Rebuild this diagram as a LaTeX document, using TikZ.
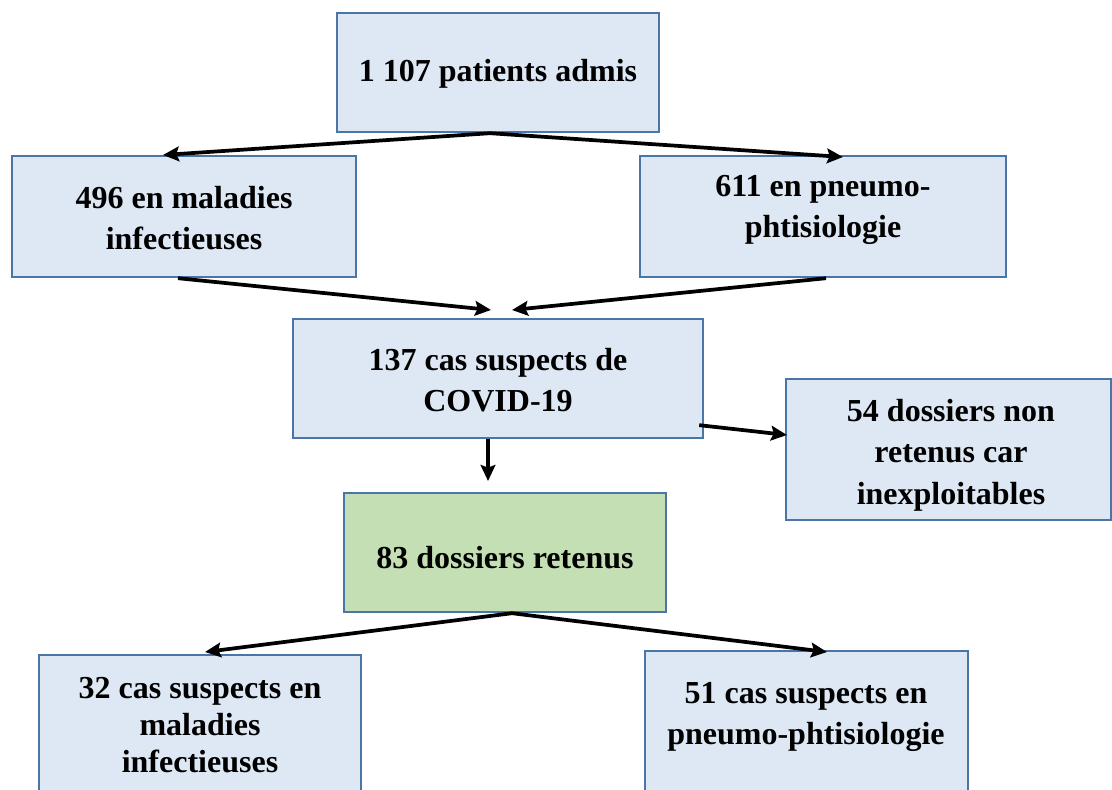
\documentclass[tikz,border=0pt]{standalone}
\usepackage{fontspec}
\setmainfont{Liberation Serif}
\usetikzlibrary{arrows.meta,fit}
\definecolor{boxblue}{HTML}{DEE8F4}
\definecolor{boxgreen}{HTML}{C4DFB3}
\definecolor{edgeblue}{HTML}{4A75A6}
\begin{document}
\begin{tikzpicture}[x=0.75pt,y=-0.75pt,
  box/.style={draw=edgeblue, line width=1.8pt, fill=boxblue, inner sep=0pt},
  greenbox/.style={box, fill=boxgreen},
  txt/.style={font=\bfseries\fontsize{24}{31}\selectfont, align=center, inner sep=0pt, text=black},
  arr/.style={-{Stealth[length=12pt,width=11pt,inset=2pt]}, line width=2.8pt, black}]
\useasboundingbox (0,0) rectangle (1112,789);
% boxes
\node[box, fit={(337,13) (659,132)}] (top) {};
\node[box, fit={(12,156) (356,277)}] (left) {};
\node[box, fit={(640,156) (1006,277)}] (right) {};
\node[box, fit={(293,319) (703,438)}] (mid) {};
\node[box, fit={(786,379) (1111,520)}] (excl) {};
\node[greenbox, fit={(344,493) (666,612)}] (kept) {};
\node[box, fit={(39,655) (361,800)}] (bl) {};
\node[box, fit={(645,651) (968,800)}] (br) {};
% texts
\node[txt] (ttop) at (498,74) {1 107 patients admis};
\node[txt] (tleft) at (184,218) {496 en maladies\\infectieuses};
\node[txt] (tright) at (823,210) {611 en pneumo-\\phtisiologie};
\node[txt] (tmid) at (498,380) {137 cas suspects de\\COVID-19};
\node[txt] (texcl) at (951,455) {54 dossiers non\\retenus car\\inexploitables};
\node[txt] (tkept) at (505,558) {83 dossiers retenus};
\node[txt, font=\bfseries\fontsize{24}{27.5}\selectfont] (tbl) at (200,725) {32 cas suspects en\\maladies\\infectieuses};
\node[txt] (tbr) at (806,717) {51 cas suspects en\\pneumo-phtisiologie};
% arrow tips
\coordinate (eA) at (163,155);
\coordinate (eB) at (843,157);
\coordinate (eC) at (491,310);
\coordinate (eD) at (512,310);
\coordinate (eE) at (787,435);
\coordinate (eF) at (488,481);
\coordinate (eG) at (205,652);
\coordinate (eH) at (827,652);
% arrows
\draw[arr] ([xshift=-6pt]top.south) -- (eA);
\draw[arr] ([xshift=-6pt]top.south) -- (eB);
\draw[arr] ([xshift=-4.5pt]left.south) -- (eC);
\draw[arr] ([xshift=2.25pt]right.south) -- (eD);
\draw[arr] ([xshift=-3.75pt,yshift=-35pt]mid.east) -- (eE);
\draw[arr] ([xshift=-7.5pt]mid.south) -- (eF);
\draw[arr] ([xshift=5.25pt]kept.south) -- (eG);
\draw[arr] ([xshift=5.25pt]kept.south) -- (eH);
\end{tikzpicture}
\end{document}
